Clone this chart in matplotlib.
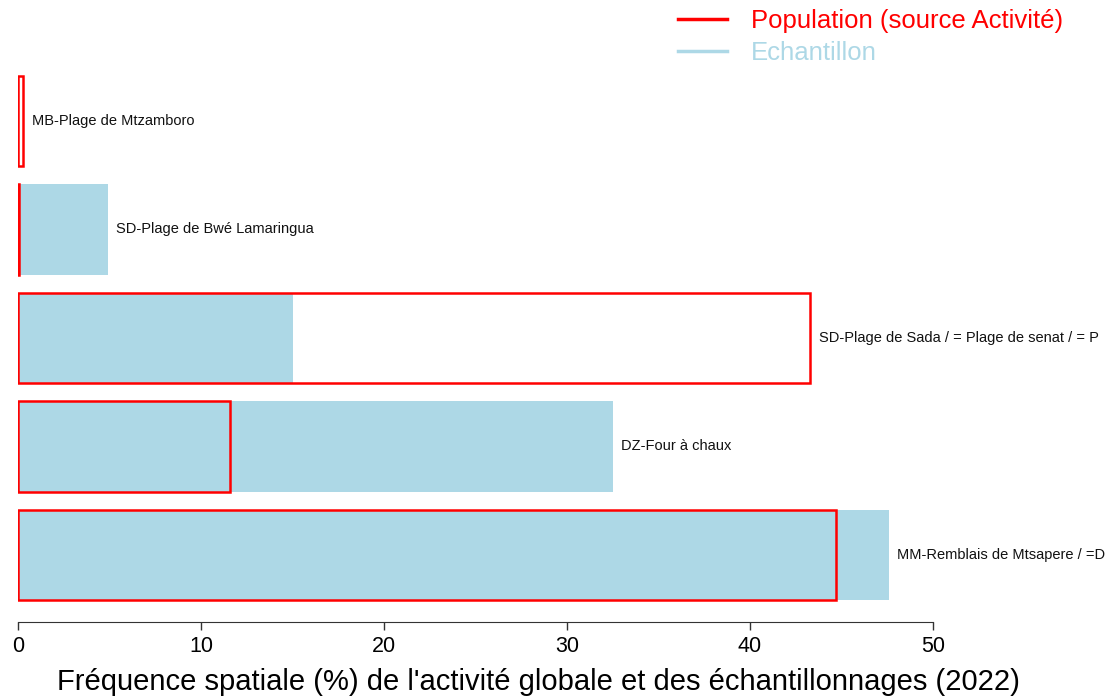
import matplotlib
matplotlib.use("Agg")
import matplotlib.pyplot as plt
from matplotlib.lines import Line2D

plt.rcParams['font.family'] = ['Liberation Sans', 'DejaVu Sans']

# sites, top to bottom (long names are cut at the right edge in the original)
sites = ["MB-Plage de Mtzamboro",
         "SD-Plage de Bwé Lamaringua",
         "SD-Plage de Sada / = Plage de senat / = P",
         "DZ-Four à chaux",
         "MM-Remblais de Mtsapere / =D"]
population = [0.3, 0.05, 43.3, 11.6, 44.7]   # % activite globale
echantillon = [0.0, 4.9, 15.0, 32.5, 47.6]   # % echantillonnages

blue = "#ADD8E6"
red = "#FF0000"

fig = plt.figure(figsize=(11.05, 6.98), dpi=100)
W, H = 1105, 698
ax = fig.add_axes([18 / W, (H - 622) / H, 1 - 18 / W, (622 - 60) / H])

ypos = list(range(len(sites)))
ax.barh(ypos, echantillon, height=0.833, color=blue, edgecolor="none", zorder=1)
ax.barh(ypos, population, height=0.833, facecolor="none", edgecolor=red,
        linewidth=1.8, zorder=2)

for y, p, e, name in zip(ypos, population, echantillon, sites):
    ax.text(max(p, e) + 0.45, y, name, va="center", ha="left", fontsize=10.5,
            color="#111111")

ax.set_xlim(0, 1087 / 18.3)
ax.set_ylim(4.618, -0.562)

for s in ["top", "right", "left"]:
    ax.spines[s].set_visible(False)
ax.spines["bottom"].set_bounds(0, 50)
ax.spines["bottom"].set_color("#333333")
ax.set_yticks([])
ax.set_xticks([0, 10, 20, 30, 40, 50])
ax.tick_params(axis="x", length=6, width=1, color="#333333", labelsize=15.5, pad=4)
ax.set_xlabel("Fréquence spatiale (%) de l'activité globale et des échantillonnages (2022)",
              fontsize=21)
ax.xaxis.set_label_coords(520 / 1087, -0.082)

handles = [Line2D([], [], color=red, lw=2.5), Line2D([], [], color=blue, lw=2.5)]
fig.legend(handles, ["Population (source Activité)", "Echantillon"],
           loc="upper left", bbox_to_anchor=(678 / W, 1 - 9 / H), frameon=False,
           fontsize=18.5, handlelength=1.9, handletextpad=0.95, labelspacing=0.3,
           borderpad=0, borderaxespad=0, labelcolor=[red, blue])

fig.savefig("out.png", dpi=100)
